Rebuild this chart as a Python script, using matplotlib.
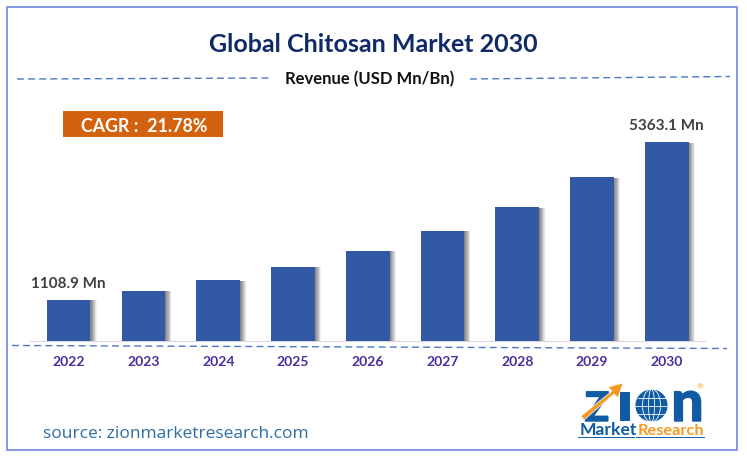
# -*- coding: utf-8 -*-
import matplotlib
matplotlib.use("Agg")
import matplotlib.pyplot as plt
import matplotlib.patheffects as pe
from matplotlib.patches import Rectangle, Circle, Ellipse, Polygon

plt.rcParams["font.family"] = ["Lato", "DejaVu Sans"]

# Data (USD Mn)
years = ["2022", "2023", "2024", "2025", "2026", "2027", "2028", "2029", "2030"]
revenue = [1108.9, 1350, 1645, 2000, 2430, 2970, 3610, 4410, 5363.1]
value_labels = {"2022": "1108.9 Mn", "2030": "5363.1 Mn"}

W, H = 747, 458
BLUE = "#3159A6"
DASH = "#4A78C4"

fig = plt.figure(figsize=(W / 100, H / 100), dpi=100, facecolor="white")

# overlay in pixel coords, for frame, headings and logo
bg = fig.add_axes([0, 0, 1, 1])
bg.set_xlim(0, W); bg.set_ylim(H, 0); bg.axis("off")

bg.add_patch(Rectangle((6.5, 6.5), 730, 443.5, fill=False, ec="#8499E2", lw=1.4))
bg.text(373, 45, "Global Chitosan Market 2030", ha="center", va="center",
        fontsize=18, fontweight="bold", color="#0F2A66")
bg.text(370, 79, "Revenue (USD Mn/Bn)", ha="center", va="center",
        fontsize=12, fontweight="bold", color="#111111")
for xs, ys in [((17, 272), (79, 78)), ((470, 730), (79, 76.5)), ((12, 727), (345.5, 348.5))]:
    bg.plot(xs, ys, color=DASH, lw=1, dashes=(5, 3))

bg.add_patch(Rectangle((63, 111), 160, 26, fc="#D2620E", ec="none"))
bg.text(144, 126, "CAGR :  21.78%", ha="center", va="center",
        fontsize=12.8, fontweight="bold", color="white")
bg.text(43, 434, "source: zionmarketresearch.com", ha="left", va="center",
        fontsize=12.55, color="#2E6DA4", family="Open Sans")

# bars
ax = fig.add_axes([30.25 / W, 1 - 341 / H, 675 / W, 199.5 / H])
ax.patch.set_alpha(0)
x = list(range(len(years)))
bars = ax.bar(x, revenue, width=0.582, color=BLUE, zorder=3)
offsets = [0.4 * i for i in range(11, 0, -1)]
shadow = [pe.SimplePatchShadow(offset=(o, -0.4), shadow_rgbFace="#000000", alpha=0.055)
          for o in offsets] + [pe.Normal()]
for b in bars:
    b.set_path_effects(shadow)
ax.set_xlim(-0.515, 8.515)
ax.set_ylim(0, 5363.1 * 199.5 / 199)
ax.set_yticks([])
for s in ["top", "left", "right"]:
    ax.spines[s].set_visible(False)
ax.spines["bottom"].set_color("#D9D9D9")
ax.set_xticks(x)
ax.set_xticklabels(years, fontsize=10, fontweight="bold", color="#4A2C9C")
ax.tick_params(axis="x", length=0, pad=10.5)
for xi, yr, v in zip(x, years, revenue):
    if yr in value_labels:
        ax.annotate(value_labels[yr], (xi, v), xytext=(0, 11.5), textcoords="offset points",
                    ha="center", va="center", fontsize=11, fontweight="bold",
                    color="#404040", annotation_clip=False)

# Zion logo
LOGO = "#0F5CA3"
ORANGE = "#F59A23"
heavy = [pe.withStroke(linewidth=1, foreground=LOGO)]
bg.text(597, 421, "Z", ha="center", va="baseline", fontsize=29, fontweight="black",
        color=LOGO, path_effects=heavy)
bg.add_patch(Rectangle((620, 392), 10, 29, fc=LOGO, ec="none"))
bg.text(687.5, 421, "n", ha="center", va="baseline", fontsize=41, fontweight="black",
        color=LOGO, path_effects=heavy)
bg.add_patch(Polygon([(581, 416), (584, 420), (614, 394), (618, 398), (623, 383),
                      (608, 387), (612, 391)], fc=ORANGE, ec="white", lw=0.5, zorder=5))
bg.add_patch(Circle((651.5, 405.5), 16.5, fc=LOGO, ec="none"))
for w in (33, 18, 6):
    bg.add_patch(Ellipse((651.5, 405.5), w, 33, fill=False, ec="white", lw=0.6))
for dy, w in ((-8, 28), (0, 33), (8, 28)):
    bg.plot([651.5 - w / 2, 651.5 + w / 2], [405.5 + dy, 405.5 + dy], color="white", lw=0.6)
bg.text(580, 435, "Market", ha="left", va="baseline", fontsize=12.6, fontweight="bold", color=LOGO)
bg.text(638, 435, "Research", ha="left", va="baseline", fontsize=11.8, fontweight="bold", color=ORANGE)
bg.plot([578, 634], [437, 437], color=LOGO, lw=0.7)
bg.plot([636, 704], [437, 437], color=LOGO, lw=0.7)
bg.text(700, 387, "®", ha="center", va="center", fontsize=6, color=ORANGE)

fig.savefig("out.png", dpi=100, facecolor="white")
